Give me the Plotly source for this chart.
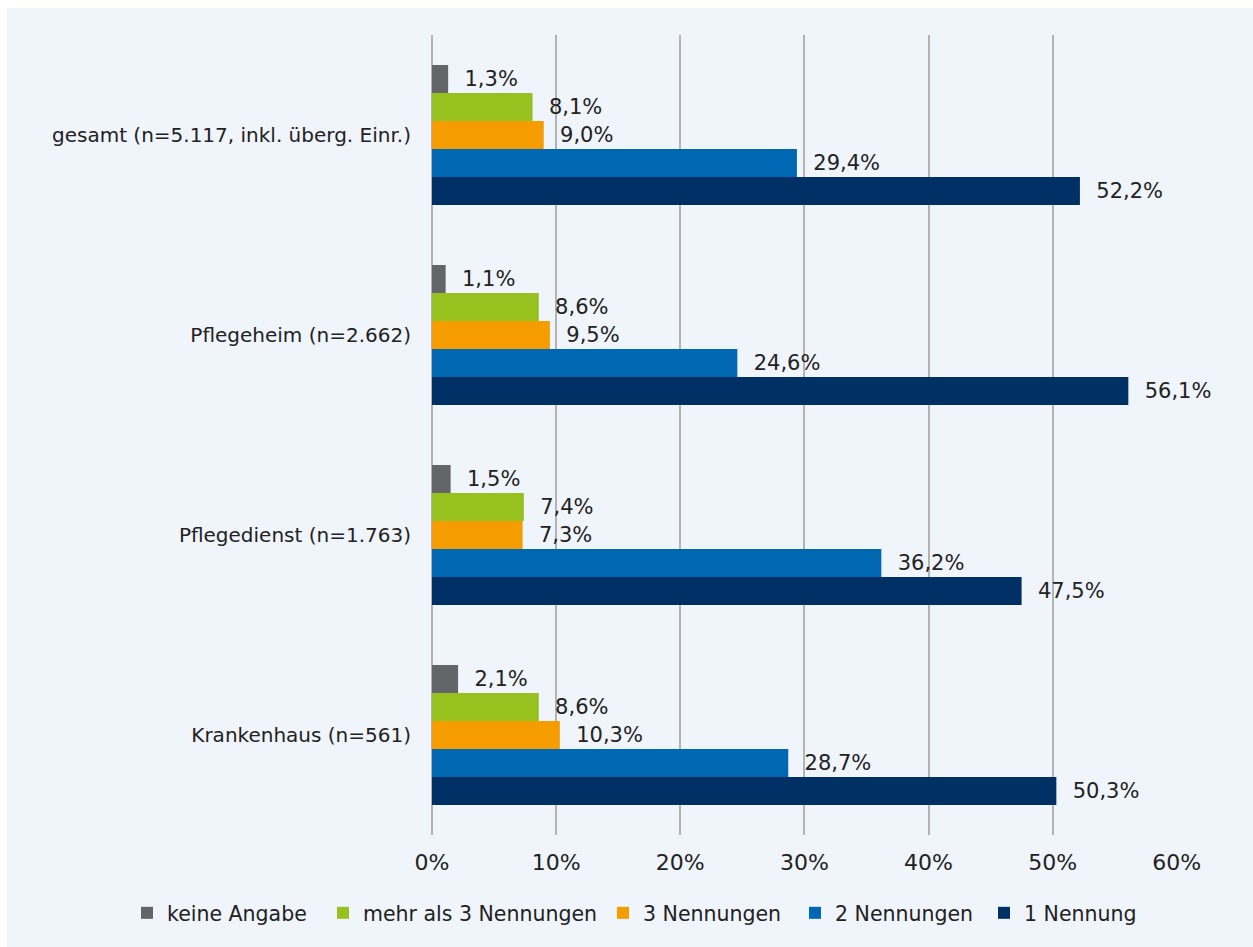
import plotly.graph_objects as go

categories = [
    "gesamt (n=5.117, inkl. überg. Einr.)",
    "Pflegeheim (n=2.662)",
    "Pflegedienst (n=1.763)",
    "Krankenhaus (n=561)",
]
series_names = ["keine Angabe", "mehr als 3 Nennungen", "3 Nennungen", "2 Nennungen", "1 Nennung"]
keine_angabe = [1.3, 1.1, 1.5, 2.1]
mehr_als_3 = [8.1, 8.6, 7.4, 8.6]
drei_nennungen = [9.0, 9.5, 7.3, 10.3]
zwei_nennungen = [29.4, 24.6, 36.2, 28.7]
eine_nennung = [52.2, 56.1, 47.5, 50.3]
tick_values = [0, 10, 20, 30, 40, 50, 60]
tick_labels = ["0%", "10%", "20%", "30%", "40%", "50%", "60%"]

colors = ["#636569", "#96c11f", "#f49c00", "#0068b3", "#003064"]
series_values = [keine_angabe, mehr_als_3, drei_nennungen, zwei_nennungen, eine_nennung]
# left edge (px) of each legend entry
legend_left_px = [127, 323, 603, 795, 984]

FONT = "DejaVu Sans"
TEXT_COLOR = "#222222"
BG = "#f0f4fb"

W, H = 1253, 947
ml, mr, mt, mb = 432, 76, 35, 112
pw, ph = W - ml - mr, H - mt - mb
plot_bottom = H - mb


def px_x(px):
    return (px - ml) / pw


def px_y(py):
    return (plot_bottom - py) / ph


def fmt(v):
    return "\u00a0\u00a0" + f"{v:.1f}".replace(".", ",") + "%"


fig = go.Figure()
legend_layouts = {}
for i, (name, vals, col) in enumerate(zip(series_names, series_values, colors)):
    lname = "legend" if i == 0 else f"legend{i + 1}"
    fig.add_trace(go.Bar(
        y=categories, x=vals, name=name, orientation="h",
        marker=dict(color=col, line=dict(width=0)),
        text=[fmt(v) for v in vals], textposition="outside",
        textfont=dict(family=FONT, size=21, color=TEXT_COLOR),
        constraintext="none", cliponaxis=False,
        hoverinfo="skip", legend=lname,
    ))
    legend_layouts[lname] = dict(
        orientation="h", xref="paper", yref="paper",
        x=px_x(legend_left_px[i]), xanchor="left", y=px_y(913), yanchor="middle",
        font=dict(family=FONT, size=20.5, color=TEXT_COLOR),
        bgcolor="rgba(0,0,0,0)",
    )

# white frame strips at the top and left edges
shapes = [
    dict(type="rect", xref="paper", yref="paper", x0=px_x(-2), x1=px_x(7), y0=px_y(H + 2), y1=px_y(-2),
         fillcolor="white", line=dict(width=0), layer="below"),
    dict(type="rect", xref="paper", yref="paper", x0=px_x(-2), x1=px_x(W + 2), y0=px_y(8), y1=px_y(-2),
         fillcolor="white", line=dict(width=0), layer="below"),
]

fig.update_layout(
    width=W, height=H,
    margin=dict(l=ml, r=mr, t=mt, b=mb, autoexpand=False),
    paper_bgcolor=BG, plot_bgcolor=BG,
    barmode="group", bargap=0.3, bargroupgap=0,
    font=dict(family=FONT, size=20, color=TEXT_COLOR),
    showlegend=True,
    shapes=shapes,
    xaxis=dict(
        range=[0, 60.02], tickvals=tick_values, ticktext=tick_labels,
        showgrid=True, gridcolor="#b3b3b3", gridwidth=2,
        zeroline=True, zerolinecolor="#b3b3b3", zerolinewidth=2,
        showline=False, ticks="", ticklabelstandoff=12,
        tickfont=dict(family=FONT, size=22, color=TEXT_COLOR),
        fixedrange=True,
    ),
    yaxis=dict(
        autorange="reversed", showgrid=False, zeroline=False, showline=False,
        ticks="", ticklabelstandoff=20,
        tickfont=dict(family=FONT, size=20, color=TEXT_COLOR),
        fixedrange=True,
    ),
    **legend_layouts,
)

fig.write_html(
    "out.html",
    config={"displayModeBar": False},
    post_script=(
        "document.body.style.margin='0';"
        "document.body.style.overflow='hidden';"
        "document.documentElement.style.background='" + BG + "';"
        "document.body.style.background='" + BG + "';"
    ),
)
